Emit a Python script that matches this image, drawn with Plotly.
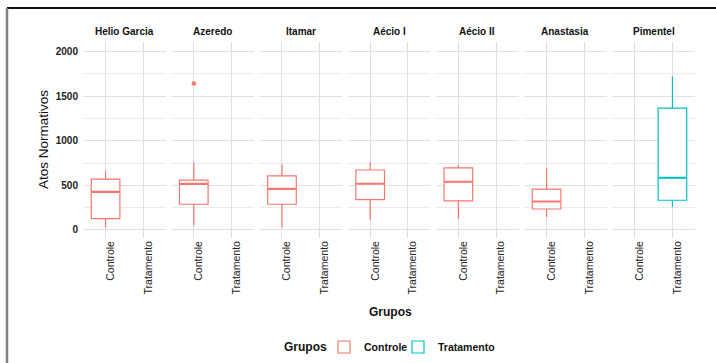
import plotly.graph_objects as go
from plotly.subplots import make_subplots

# ---------------- data ----------------
politicos = ["Helio Garcia", "Azeredo", "Itamar", "Aécio I", "Aécio II", "Anastasia", "Pimentel"]
grupos = ["Controle", "Tratamento"]
grupo_idx = [1, 1, 1, 1, 1, 1, 2]          # which group each politician's box belongs to
lower_fence = [28, 51, 25, 115, 122, 145, 258]
q1 = [127, 288, 288, 341, 325, 235, 333]
median = [427, 517, 461, 518, 540, 319, 585]
q3 = [570, 559, 605, 672, 695, 458, 1365]
upper_fence = [664, 755, 737, 759, 729, 692, 1720]
outlier_panel = ["Azeredo"]
outlier_value = [1640]
y_ticks = [0, 500, 1000, 1500, 2000]

colors = {"Controle": "#F8766D", "Tratamento": "#00BFC4"}
FONT = "Liberation Sans, Arial, sans-serif"
BOX_W = 0.76

# ---------------- geometry ----------------
W, H = 716, 363
L, R, T, B = 83, 695, 42, 238   # plot area in pixels
pw, ph = R - L, B - T

def px2x(px):
    return (px - L) / pw

def px2y(py):
    return (B - py) / ph

n = len(politicos)
fig = make_subplots(rows=1, cols=n, shared_yaxes=True, horizontal_spacing=0.0088)

legend_of = {"Controle": "legend", "Tratamento": "legend2"}
shown = set()
for i, name in enumerate(politicos):
    g = grupos[grupo_idx[i] - 1]
    c = colors[g]
    fig.add_trace(go.Box(
        x=[grupo_idx[i]], q1=[q1[i]], median=[median[i]], q3=[q3[i]],
        lowerfence=[lower_fence[i]], upperfence=[upper_fence[i]],
        name=g, legendgroup=g, showlegend=g not in shown, legend=legend_of[g],
        fillcolor="white", line=dict(color=c, width=1.2),
        whiskerwidth=0, width=BOX_W, boxpoints=False, hoverinfo="y",
    ), row=1, col=i + 1)
    shown.add(g)
    # thicker median line (ggplot style)
    fig.add_trace(go.Scatter(
        x=[grupo_idx[i] - BOX_W / 2 + 0.02, grupo_idx[i] + BOX_W / 2 - 0.02],
        y=[median[i], median[i]], mode="lines",
        line=dict(color=c, width=2.2), showlegend=False, hoverinfo="skip",
    ), row=1, col=i + 1)

for name, v in zip(outlier_panel, outlier_value):
    i = politicos.index(name)
    fig.add_trace(go.Scatter(
        x=[grupo_idx[i]], y=[v], mode="markers",
        marker=dict(color=colors[grupos[grupo_idx[i] - 1]], size=4.5),
        showlegend=False, hoverinfo="skip",
    ), row=1, col=i + 1)

for i in range(n):
    fig.update_xaxes(
        range=[0.4, 2.6], tickvals=[1, 2], ticktext=grupos, tickangle=-90,
        showgrid=True, gridcolor="#E0E0E0", gridwidth=1.3, zeroline=False,
        showline=False, ticks="", tickfont=dict(family=FONT, size=10.5, color="#222"),
        ticklabelshift=5, automargin=False, row=1, col=i + 1,
    )
fig.update_yaxes(
    range=[-90, 2106], tickvals=y_ticks, showgrid=True, gridcolor="#E0E0E0", gridwidth=1.3,
    minor=dict(dtick=250, tick0=0, showgrid=True, gridcolor="#EBEBEB", gridwidth=1),
    zeroline=False, showline=False, ticks="", automargin=False,
    tickfont=dict(family=FONT, size=10, color="#222", weight="bold"),
    ticklabelstandoff=4,
)

annotations = []
for i, name in enumerate(politicos):
    xa = fig.layout["xaxis" if i == 0 else f"xaxis{i+1}"]
    cx = (xa.domain[0] + xa.domain[1]) / 2
    annotations.append(dict(
        text=name, x=cx, y=1, xref="paper", yref="paper", xanchor="center",
        yanchor="middle", yshift=11, showarrow=False,
        font=dict(family=FONT, size=10, color="#111", weight="bold"),
    ))
annotations.append(dict(
    text="Atos Normativos", x=px2x(43), y=px2y(140), xref="paper", yref="paper",
    textangle=-90, showarrow=False, xanchor="center", yanchor="middle",
    font=dict(family=FONT, size=13.5, color="#111"),
))
annotations.append(dict(
    text="Grupos", x=px2x(390), y=px2y(312), xref="paper", yref="paper",
    showarrow=False, xanchor="center", yanchor="middle",
    font=dict(family=FONT, size=12, color="#111", weight="bold"),
))
# legend title
annotations.append(dict(
    text="Grupos", x=px2x(305), y=px2y(347), xref="paper", yref="paper",
    showarrow=False, xanchor="center", yanchor="middle",
    font=dict(family=FONT, size=12, color="#111", weight="bold"),
))

shapes = [
    dict(type="line", xref="paper", yref="paper", x0=px2x(7), x1=px2x(716),
         y0=px2y(8), y1=px2y(8), line=dict(color="#111", width=2)),
    dict(type="line", xref="paper", yref="paper", x0=px2x(7), x1=px2x(7),
         y0=px2y(8), y1=px2y(363), line=dict(color="#808080", width=2.5)),
]

leg_common = dict(
    orientation="h", xref="container", yref="container", xanchor="left",
    y=1 - 347 / H, yanchor="middle",
    font=dict(family=FONT, size=10.5, weight="bold", color="#111"),
    itemwidth=30, bgcolor="rgba(0,0,0,0)",
)

fig.update_layout(
    width=W, height=H, margin=dict(l=L, r=W - R, t=T, b=H - B, pad=0, autoexpand=False),
    paper_bgcolor="white", plot_bgcolor="white",
    annotations=annotations, shapes=shapes,
    showlegend=True,
    legend=dict(x=(345 - 21) / W, **leg_common),
    legend2=dict(x=(419 - 21) / W, **leg_common),
)

fig.write_html("out.html", config={"displayModeBar": False},
               post_script="document.body.style.margin='0px';")
